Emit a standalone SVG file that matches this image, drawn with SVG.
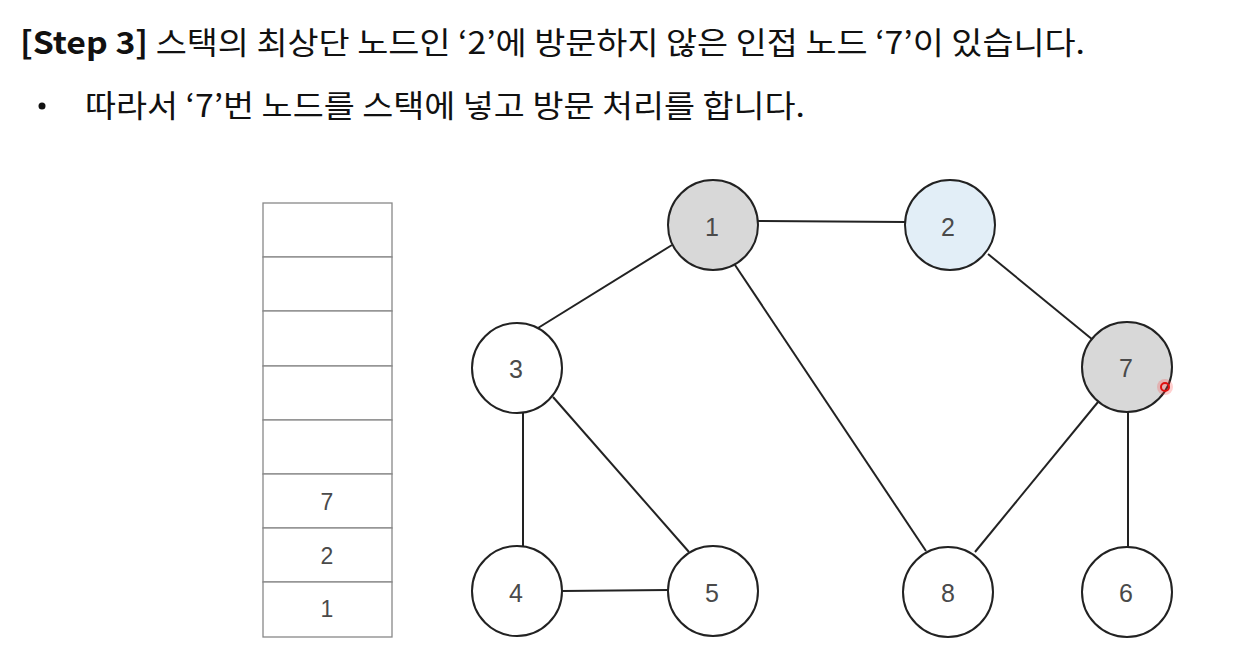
<svg xmlns="http://www.w3.org/2000/svg" width="1236" height="654" viewBox="0 0 1236 654">
<style>
.hd{font-family:"Noto Sans CJK KR","Noto Sans",sans-serif;font-size:31px;fill:#111}
.node circle{stroke:#222;stroke-width:2}
.node text{font-family:"Liberation Sans",Arial,sans-serif;font-size:25px;fill:#4a4a4a;text-anchor:middle;dominant-baseline:central}
.edges line{stroke:#222;stroke-width:2}
.cell{fill:#fff;stroke:#888;stroke-width:1.3}
.st{font-family:"Liberation Sans",Arial,sans-serif;font-size:23px;fill:#4a4a4a;text-anchor:middle;dominant-baseline:central}
</style>
<rect width="1236" height="654" fill="#fff"/>
<text class="hd" x="20" y="54" textLength="1065" lengthAdjust="spacingAndGlyphs"><tspan font-weight="bold">[Step 3]</tspan> 스택의 최상단 노드인 ‘2’에 방문하지 않은 인접 노드 ‘7’이 있습니다.</text>
<circle cx="42" cy="106" r="3.5" fill="#111"/>
<text class="hd" x="85" y="117" textLength="720" lengthAdjust="spacingAndGlyphs">따라서 ‘7’번 노드를 스택에 넣고 방문 처리를 합니다.</text>
<g id="stack">
<rect class="cell" x="263" y="203" width="129" height="54"/>
<rect class="cell" x="263" y="257" width="129" height="54"/>
<rect class="cell" x="263" y="311" width="129" height="55"/>
<rect class="cell" x="263" y="366" width="129" height="54"/>
<rect class="cell" x="263" y="420" width="129" height="54"/>
<rect class="cell" x="263" y="474" width="129" height="54"/>
<rect class="cell" x="263" y="528" width="129" height="54"/>
<rect class="cell" x="263" y="582" width="129" height="55"/>
<text class="st" x="327" y="502">7</text>
<text class="st" x="327" y="556">2</text>
<text class="st" x="327" y="609">1</text>
</g>
<g id="edges" class="edges">
<line x1="758" y1="221" x2="905" y2="222"/>
<line x1="672" y1="245" x2="538" y2="328"/>
<line x1="735" y1="265" x2="926" y2="551"/>
<line x1="988" y1="254" x2="1093" y2="340"/>
<line x1="1098" y1="402" x2="975" y2="552"/>
<line x1="1128" y1="412" x2="1128" y2="547"/>
<line x1="523" y1="413" x2="523" y2="546"/>
<line x1="553" y1="397" x2="689" y2="552"/>
<line x1="562" y1="591" x2="668" y2="590"/>
</g>
<g id="n1" class="node"><circle cx="713" cy="225" r="45" fill="#d8d8d8"/><text x="712" y="227">1</text></g>
<g id="n2" class="node"><circle cx="950" cy="225" r="45" fill="#e2eef7"/><text x="948" y="227">2</text></g>
<g id="n3" class="node"><circle cx="517" cy="368" r="45" fill="#fff"/><text x="516" y="369">3</text></g>
<g id="n7" class="node"><circle cx="1127" cy="367" r="45" fill="#d8d8d8"/><text x="1126" y="368">7</text></g>
<g id="n4" class="node"><circle cx="517" cy="591" r="45" fill="#fff"/><text x="516" y="593">4</text></g>
<g id="n5" class="node"><circle cx="713" cy="591" r="45" fill="#fff"/><text x="712" y="593">5</text></g>
<g id="n8" class="node"><circle cx="948" cy="592" r="45" fill="#fff"/><text x="948" y="593">8</text></g>
<g id="n6" class="node"><circle cx="1127" cy="592" r="45" fill="#fff"/><text x="1126" y="593">6</text></g>
<circle cx="1165" cy="387" r="8" fill="#ff4040" opacity="0.25"/>
<circle cx="1165" cy="387" r="4" fill="none" stroke="#e01010" stroke-width="2"/>
</svg>
